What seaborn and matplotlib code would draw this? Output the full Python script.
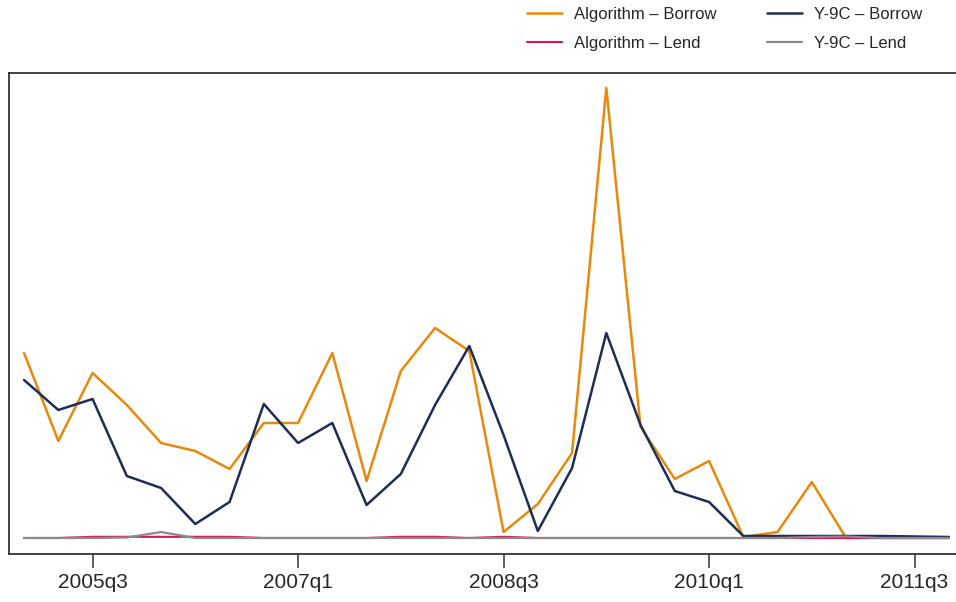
import numpy as np
import pandas as pd
import matplotlib
matplotlib.use("Agg")
import matplotlib.pyplot as plt
import seaborn as sns

quarters = [f"{y}q{q}" for y in range(2005, 2012) for q in range(1, 5)]

alg_borrow = [18.5, 9.7, 16.5, 13.3, 9.5, 8.7, 6.9, 11.5, 11.5, 18.5, 5.7, 16.7, 21.0, 18.7,
              0.6, 3.4, 8.5, 45.0, 11.1, 5.9, 7.7, 0.1, 0.6, 5.6, 0.0, 0.0, 0.0, 0.0]
y9c_borrow = [15.8, 12.8, 13.9, 6.2, 5.0, 1.4, 3.6, 13.4, 9.5, 11.5, 3.3, 6.4, 13.3, 19.2,
              10.3, 0.7, 7.0, 20.5, 11.3, 4.7, 3.6, 0.2, 0.2, 0.2, 0.2, 0.2, 0.15, 0.1]
alg_lend = [0.0, 0.0, 0.12, 0.12, 0.12, 0.12, 0.12, 0.0, 0.0, 0.0, 0.0, 0.12, 0.12, 0.0,
            0.12, 0.0, 0.0, 0.0, 0.0, 0.0, 0.0, 0.0, 0.0, 0.0, 0.0, 0.0, 0.0, 0.0]
y9c_lend = [0.0, 0.0, 0.0, 0.05, 0.6, 0.0, 0.0, 0.0, 0.0, 0.0, 0.0, 0.0, 0.0, 0.0,
            0.0, 0.0, 0.0, 0.0, 0.0, 0.0, 0.0, 0.0, 0.0, 0.1, 0.15, 0.0, 0.0, 0.0]

tick_labels = ["2005q3", "2007q1", "2008q3", "2010q1", "2011q3"]

series_names = ["Algorithm – Borrow", "Algorithm – Lend", "Y-9C – Borrow", "Y-9C – Lend"]
colors = {"Algorithm – Borrow": "#E8890C", "Algorithm – Lend": "#D8145A",
          "Y-9C – Borrow": "#1E2D58", "Y-9C – Lend": "#8A8A8A"}
widths = {"Algorithm – Borrow": 1.8, "Algorithm – Lend": 1.5,
          "Y-9C – Borrow": 1.8, "Y-9C – Lend": 1.6}

idx = np.arange(len(quarters))
frames = []
for name, vals in zip(series_names, [alg_borrow, alg_lend, y9c_borrow, y9c_lend]):
    frames.append(pd.DataFrame({"t": idx, "value": vals, "series": name}))
df = pd.concat(frames, ignore_index=True)

sns.set_theme(style="white")
plt.rcParams["font.family"] = ["Liberation Sans", "DejaVu Sans"]

fig = plt.figure(figsize=(9.56, 6.02), dpi=100)
ax = fig.add_axes([9 / 956, 48 / 602, 1 - 9 / 956, (554 - 73) / 602])

draw_order = ["Algorithm – Borrow", "Y-9C – Borrow", "Algorithm – Lend", "Y-9C – Lend"]
handles = {}
for name in draw_order:
    sub = df[df["series"] == name]
    sns.lineplot(data=sub, x="t", y="value", color=colors[name], lw=widths[name],
                 ax=ax, label=name, legend=False)
    handles[name] = ax.lines[-1]

ax.set_xlim(-0.44, 27.21)
ax.set_ylim(-1.6, 46.5)
ax.set_xlabel("")
ax.set_ylabel("")
ax.set_yticks([])
tick_pos = [quarters.index(q) for q in tick_labels]
ax.set_xticks(tick_pos)
ax.set_xticklabels(tick_labels, fontsize=15)
ax.tick_params(axis="x", direction="out", length=10, width=1.2, color="#444444",
               pad=4, bottom=True)
for side in ["left", "top", "bottom"]:
    ax.spines[side].set_color("#333333")
    ax.spines[side].set_linewidth(1.3)
ax.spines["right"].set_visible(False)

order = ["Algorithm – Borrow", "Algorithm – Lend", "Y-9C – Borrow", "Y-9C – Lend"]
fig.legend([handles[n] for n in order], order, ncol=2, loc="upper left",
           bbox_to_anchor=(527 / 956, 1 - 7 / 602), frameon=False, fontsize=12,
           handlelength=2.1, handletextpad=0.75, columnspacing=3.0, labelspacing=0.85,
           borderpad=0, borderaxespad=0)

fig.savefig("out.png", dpi=100)
